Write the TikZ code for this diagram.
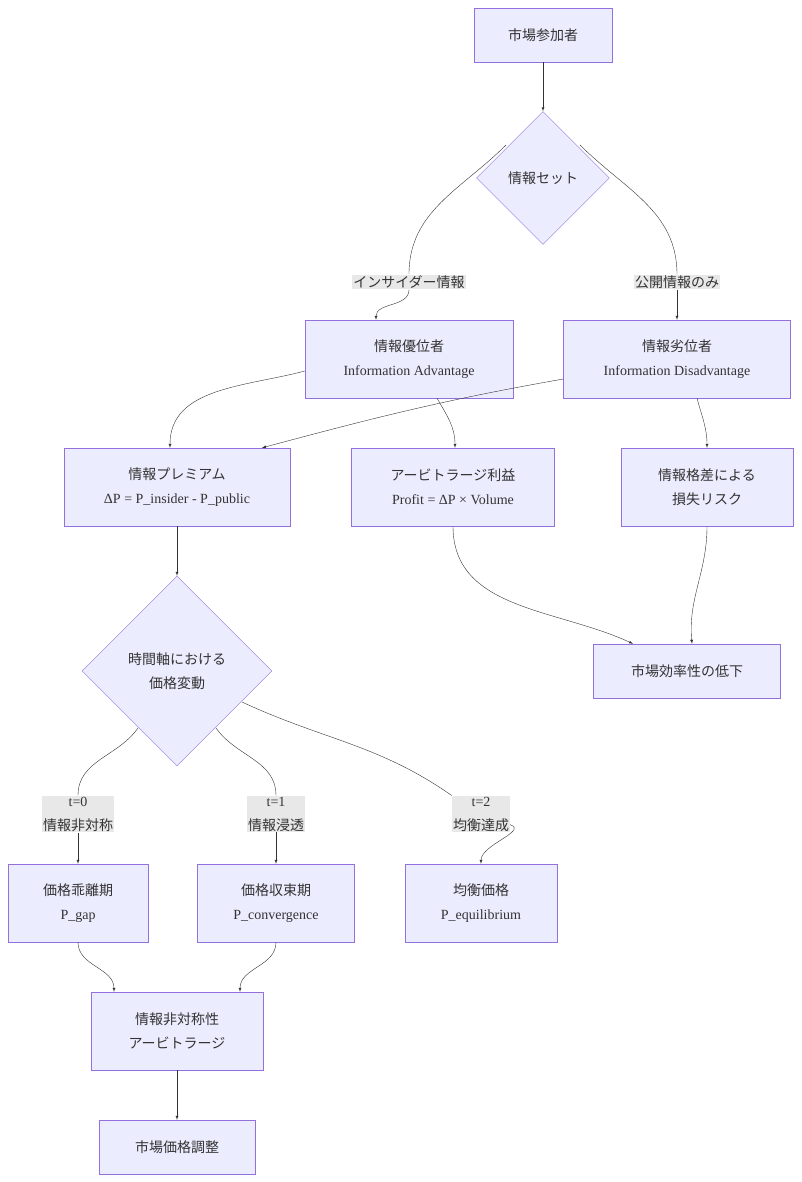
\documentclass[tikz,border=0pt]{standalone}
\usepackage{fontspec}
\setmainfont{Liberation Serif}
\newfontfamily\jp{Noto Sans CJK JP}
\usetikzlibrary{shapes.geometric}
\definecolor{boxfill}{HTML}{ECECFF}
\definecolor{boxline}{HTML}{9370DB}
\definecolor{ink}{HTML}{333333}
\definecolor{lblfill}{HTML}{E8E8E8}

\begin{document}
\begin{tikzpicture}[x=1pt,y=-1pt,every node/.style={text=ink,font=\fontsize{14}{24}\selectfont}]
  \tikzstyle{box} = [rectangle, draw=boxline, fill=boxfill, align=center, inner sep=0pt]
  \tikzstyle{choice} = [diamond, draw=boxline, fill=boxfill, align=center, inner sep=0pt, aspect=1]
  \tikzstyle{tag} = [fill=lblfill, align=center, inner sep=1pt, font=\fontsize{14}{24}\selectfont]
  \tikzstyle{arrow} = [draw=ink, -latex]
  \tikzstyle{line} = [draw=ink]

  \useasboundingbox (0,0) rectangle (801,1182);

  \node (market) [box, minimum width=138, minimum height=54] at (543,35) {\jp 市場参加者};
  \node (set) [choice, minimum width=133, minimum height=133] at (543,178) {\jp 情報セット};
  \node (adv) [box, minimum width=208, minimum height=78] at (409,359) {{\jp 情報優位者}\\Information Advantage};
  \node (dis) [box, minimum width=227, minimum height=78] at (677,359) {{\jp 情報劣位者}\\Information Disadvantage};
  \node (prem) [box, minimum width=226, minimum height=78] at (177,487) {{\jp 情報プレミアム}\\ΔP = P\_insider - P\_public};
  \node (arb) [box, minimum width=203, minimum height=78] at (453,487) {{\jp アービトラージ利益}\\Profit = ΔP × Volume};
  \node (loss) [box, minimum width=172, minimum height=78] at (707,487) {\jp 情報格差による\\\jp 損失リスク};
  \node (ineff) [box, minimum width=187, minimum height=54] at (687,671) {\jp 市場効率性の低下};
  \node (time) [choice, minimum width=190, minimum height=190] at (177,671) {\jp 時間軸における\\\jp 価格変動};
  \node (gap) [box, minimum width=140, minimum height=78] at (78,903) {{\jp 価格乖離期}\\P\_gap};
  \node (conv) [box, minimum width=157, minimum height=78] at (276,903) {{\jp 価格収束期}\\P\_convergence};
  \node (equi) [box, minimum width=152, minimum height=78] at (481,903) {{\jp 均衡価格}\\P\_equilibrium};
  \node (asym) [box, minimum width=172, minimum height=78] at (177,1031) {\jp 情報非対称性\\\jp アービトラージ};
  \node (adjust) [box, minimum width=156, minimum height=54] at (177,1147) {\jp 市場価格調整};

  % edge labels
  \node (tin) [tag] at (409,282) {\jp インサイダー情報};
  \node (tpub) [tag] at (677,282) {\jp 公開情報のみ};
  \node (t0) [tag] at (78,814) {t=0\\\jp 情報非対称};
  \node (t1) [tag] at (276,814) {t=1\\\jp 情報浸透};
  \node (t2) [tag] at (481,814) {t=2\\\jp 均衡達成};

  \draw [arrow] (market) -- (set);
  \draw [line] (set.south west) ++(-4,-6) coordinate (s1);
  \draw [line] ([shift={(-37,-33)}]set.center) to[out=-135,in=90] (tin);
  \draw [arrow] (tin) to[out=-90,in=90] ([xshift=-33]adv.north);
  \draw [line] ([shift={(37,-33)}]set.center) to[out=-45,in=90] (tpub);
  \draw [arrow] (tpub) -- (dis.north);

  \draw [arrow] ([yshift=-12]adv.west) to[out=-165,in=90] ([xshift=-7]prem.north);
  \draw [arrow] ([yshift=-20]dis.west) to[out=-170,in=15] ([xshift=85]prem.north);
  \draw [arrow] ([xshift=28]adv.south) to[out=-60,in=90] ([xshift=2]arb.north);
  \draw [arrow] ([xshift=20]dis.south) to[out=-75,in=90] (loss.north);

  \draw [arrow] (prem) -- (time);
  \draw [arrow] (arb.south) to[out=-90,in=155] ([xshift=-54]ineff.north);
  \draw [arrow] (loss.south) to[out=-90,in=95] ([xshift=5]ineff.north);

  \draw [line] ([shift={(-39,57)}]time.center) to[out=-125,in=90] (t0);
  \draw [arrow] (t0) -- (gap);
  \draw [line] ([shift={(39,57)}]time.center) to[out=-55,in=90] (t1);
  \draw [arrow] (t1) -- (conv);
  \draw [line] ([shift={(65,31)}]time.center) to[out=-25,in=145] (t2.north west);
  \draw [arrow] (t2) to[out=-20,in=90] (equi);

  \draw [arrow] (gap.south) to[out=-90,in=90] ([xshift=-63]asym.north);
  \draw [arrow] (conv.south) to[out=-90,in=90] ([xshift=63]asym.north);
  \draw [arrow] (asym) -- (adjust);
\end{tikzpicture}
\end{document}
